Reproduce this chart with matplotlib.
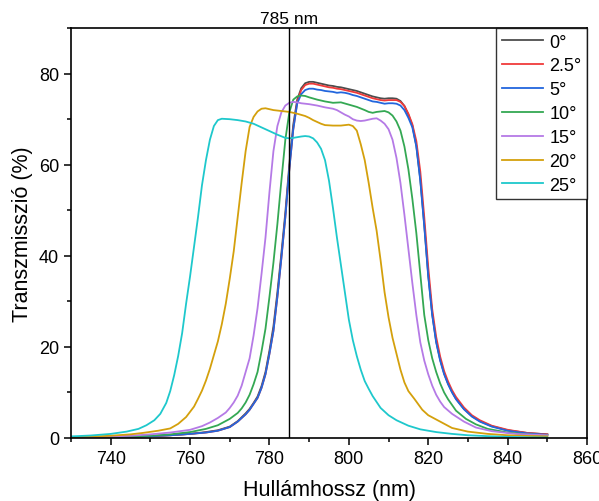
import matplotlib
matplotlib.use("Agg")
import matplotlib.pyplot as plt
from matplotlib.ticker import MultipleLocator
from matplotlib.transforms import blended_transform_factory

plt.rcParams['font.family'] = ['Liberation Sans', 'DejaVu Sans']

# transmission spectra, one (wavelength, T%) list per tilt angle
wl_0 = [730, 740, 750, 755, 760, 764, 767, 770, 772, 774, 775, 776, 777, 778, 779, 780,
        781, 782, 783, 784, 785, 786, 787, 788, 789, 790, 791, 792, 793, 794, 795, 796,
        797, 798, 799, 800, 801, 802, 803, 804, 805, 806, 807, 808, 809, 810, 811, 812,
        813, 814, 815, 816, 817, 818, 819, 820, 821, 822, 823, 824, 825, 826, 827, 829,
        831, 833, 836, 840, 845, 850]
t_0 = [0.1, 0.2, 0.4, 0.6, 0.9, 1.3, 1.7, 2.5, 3.7, 5.4, 6.4, 7.7, 9.1, 11.4, 14.5, 19.2,
       24.5, 32, 40.5, 49.5, 60, 68.8, 74.3, 76.8, 77.9, 78.2, 78.2, 78.0, 77.8, 77.6, 77.4, 77.3,
       77.1, 77.0, 76.8, 76.6, 76.4, 76.2, 75.9, 75.6, 75.3, 75.0, 74.8, 74.6, 74.5, 74.6, 74.6, 74.5,
       74.0, 72.9, 71.0, 68.6, 64.2, 56.8, 46.8, 35.8, 27.2, 21.2, 17.2, 14.2, 11.9, 10.1, 8.6, 6.4,
       4.8, 3.7, 2.6, 1.7, 1.1, 0.8]

wl_2_5 = wl_0
t_2_5 = [0.1, 0.2, 0.4, 0.6, 0.9, 1.2, 1.6, 2.4, 3.6, 5.2, 6.2, 7.5, 8.8, 11, 14, 18.5,
         23.5, 31, 39.5, 48.5, 59, 67.8, 73.8, 76.4, 77.5, 77.8, 77.8, 77.6, 77.4, 77.2, 77.0, 76.9,
         76.7, 76.6, 76.4, 76.2, 76.0, 75.8, 75.5, 75.2, 74.9, 74.6, 74.4, 74.2, 74.1, 74.2, 74.2, 74.2,
         73.8, 72.9, 71.2, 68.9, 65.2, 58.5, 48.5, 37.5, 28.3, 22.2, 17.9, 14.7, 12.4, 10.5, 9.0, 6.7,
         5.0, 3.9, 2.7, 1.8, 1.1, 0.8]

wl_5 = wl_0
t_5 = [0.1, 0.2, 0.4, 0.6, 0.9, 1.2, 1.6, 2.4, 3.6, 5.2, 6.2, 7.5, 8.8, 11, 14, 18.5,
       23.5, 31, 39.5, 48.5, 59, 67.8, 73.5, 75.5, 76.4, 76.7, 76.7, 76.5, 76.4, 76.2, 76.1, 76.0,
       75.8, 75.9, 75.8, 75.6, 75.3, 75.1, 74.8, 74.5, 74.2, 73.9, 73.8, 73.6, 73.4, 73.5, 73.5, 73.4,
       73.0, 72.0, 70.3, 68.2, 64, 56.5, 46.5, 35.5, 27, 21, 17, 14, 11.8, 10.0, 8.5, 6.3,
       4.7, 3.6, 2.5, 1.6, 1.0, 0.7]

wl_10 = [730, 740, 750, 755, 760, 764, 767, 770, 772, 773, 774, 775, 776, 777, 778, 779,
         780, 781, 782, 783, 784, 785, 786, 787, 788, 789, 790, 792, 794, 796, 798, 800,
         802, 804, 805, 806, 807, 808, 809, 810, 811, 812, 813, 814, 815, 816, 817, 818,
         819, 820, 821, 822, 823, 824, 825, 827, 829.5, 832, 835, 840, 845, 850]
t_10 = [0.1, 0.2, 0.5, 0.8, 1.3, 2.0, 2.8, 4.2, 5.5, 6.5, 7.8, 9.5, 11.8, 14.5, 19, 24,
        31, 38.5, 47, 56.5, 65.5, 71.5, 74.3, 75.0, 75.2, 75.1, 74.8, 74.3, 73.9, 73.6, 73.7, 73.2,
        72.7, 72.0, 71.6, 71.4, 71.6, 71.7, 71.8, 71.5, 70.8, 69.5, 67.5, 64, 59, 52.5, 45, 36,
        27, 21.5, 17.5, 14.5, 12, 10, 8.5, 6.0, 4.2, 3.0, 2.0, 1.2, 0.8, 0.6]

wl_15 = [730, 740, 745, 750, 755, 760, 763, 765, 767, 769, 770, 771, 772, 773, 774, 775,
         776, 777, 778, 779, 780, 781, 782, 783, 784, 785, 786, 787, 788, 790, 792, 794,
         796, 797, 798, 799, 800, 801, 802, 803, 804, 805, 806, 807, 808, 809, 810, 811,
         812, 813, 814, 815, 816, 817, 818, 819, 820, 821, 822, 823, 824, 826, 829, 832,
         836, 842, 850]
t_15 = [0.1, 0.3, 0.5, 0.8, 1.2, 1.8, 2.6, 3.4, 4.4, 5.6, 6.6, 7.8, 9.3, 11.5, 14.5, 17.5,
        22.5, 28.5, 36, 44, 54, 63, 68.5, 71.5, 73, 73.6, 73.8, 73.7, 73.5, 73.3, 73.0, 72.6,
        72.3, 72.0, 71.5, 71.0, 70.6, 70.0, 69.7, 69.6, 69.7, 69.9, 70.1, 70.2, 69.7, 69.0, 67.8, 65.5,
        61.5, 56, 49, 41.5, 34, 27, 21, 17, 14, 11.5, 9.5, 8.0, 6.8, 5.3, 3.6, 2.3,
        1.5, 0.9, 0.6]

wl_20 = [730, 735, 740, 745, 748, 752, 755, 757, 759, 761, 762, 763, 764, 765, 766, 767,
         768, 769, 770, 771, 772, 773, 774, 775, 776, 777, 778, 779, 781, 783, 785, 787,
         789, 790, 791, 792, 793, 794, 796, 798, 800, 801, 802, 803, 804, 805, 806, 807,
         808, 809, 810, 811, 812, 813, 814, 815, 816.5, 818.5, 820, 823, 826, 830, 835, 840,
         845, 850]
t_20 = [0.2, 0.3, 0.5, 0.8, 1.1, 1.6, 2.1, 3.1, 4.6, 6.9, 8.6, 10.4, 12.6, 15.2, 18.2, 21.2,
        25, 29.5, 35, 41, 48.5, 56, 63, 68.3, 70.5, 71.7, 72.3, 72.4, 72.0, 71.8, 71.6, 71.2,
        70.7, 70.3, 69.8, 69.4, 69.0, 68.7, 68.6, 68.6, 68.8, 68.5, 67.5, 64.5, 61, 56, 50.5, 45.5,
        39, 32, 26.5, 22, 18.5, 15, 12.2, 10.3, 8.6, 6.2, 5.0, 3.6, 2.2, 1.4, 0.9, 0.6,
        0.45, 0.35]

wl_25 = [730, 735, 740, 744, 747, 749, 751, 752.5, 754, 755, 756, 757, 758, 759, 760, 761,
         762, 763, 764, 765, 766, 767, 768, 770, 772, 774, 776, 778, 780, 782, 784, 785,
         786, 788, 789, 790, 791, 792, 793, 794, 795, 796, 797, 798, 799, 800, 801, 802,
         803, 804, 805, 806, 808, 810, 812, 815, 818, 822, 826, 830, 835, 840, 845, 850]
t_25 = [0.35, 0.55, 0.9, 1.4, 2.0, 2.8, 3.9, 5.3, 7.7, 10.3, 13.8, 18, 23, 29.5, 35.5, 42,
        48.5, 55.5, 61, 65.5, 68.5, 69.8, 70.1, 70.0, 69.8, 69.5, 69.0, 68.2, 67.4, 66.6, 65.9, 65.8,
        65.9, 66.2, 66.3, 66.2, 65.8, 64.9, 63.5, 61, 56.5, 50.5, 44, 38, 32, 26, 21.5, 18,
        15, 12.5, 10.8, 9.2, 6.6, 5.0, 3.9, 2.7, 1.9, 1.3, 0.9, 0.6, 0.4, 0.25, 0.15, 0.1]

labels = ['0°', '2.5°', '5°', '10°', '15°', '20°', '25°']
colors = ['#4d4d4d', '#f03a3a', '#2266dd', '#34a853', '#b57ae6', '#d4a00c', '#1ec8cc']
series = [(wl_0, t_0), (wl_2_5, t_2_5), (wl_5, t_5), (wl_10, t_10),
          (wl_15, t_15), (wl_20, t_20), (wl_25, t_25)]
marker_wl = 785


def plot_spectra():
    fig = plt.figure(figsize=(5.99, 5.02), dpi=100)
    ax = fig.add_axes([0.1185, 0.1255, 0.8615, 0.8165])

    for (wl, t), lab, col in zip(series, labels, colors):
        ax.plot(wl, t, color=col, lw=1.3, label=lab)

    ax.axvline(marker_wl, color='black', lw=1.0)
    trans = blended_transform_factory(ax.transData, ax.transAxes)
    ax.text(marker_wl, 1.006, f'{marker_wl} nm', transform=trans,
            ha='center', va='bottom', fontsize=12.5)

    ax.set_xlim(730, 860)
    ax.set_ylim(0, 90)
    ax.xaxis.set_minor_locator(MultipleLocator(10))
    ax.yaxis.set_major_locator(MultipleLocator(20))
    ax.yaxis.set_minor_locator(MultipleLocator(10))
    ax.set_xticks([740, 760, 780, 800, 820, 840, 860])
    ax.tick_params(which='major', direction='out', length=5, width=1.1, labelsize=13)
    ax.tick_params(which='minor', direction='out', length=3, width=1.1)
    for sp in ax.spines.values():
        sp.set_linewidth(1.2)

    ax.set_xlabel('Hullámhossz (nm)', fontsize=15.5, labelpad=9)
    ax.set_ylabel('Transzmisszió (%)', fontsize=15.5, labelpad=4)

    leg = ax.legend(loc='upper right', borderaxespad=0, fontsize=13, frameon=True,
                    fancybox=False, edgecolor='black', handlelength=2.3,
                    labelspacing=0.38, handletextpad=0.35, borderpad=0.3)
    leg.get_frame().set_linewidth(1.0)

    fig.savefig('out.png', dpi=100)


if __name__ == '__main__':
    plot_spectra()
